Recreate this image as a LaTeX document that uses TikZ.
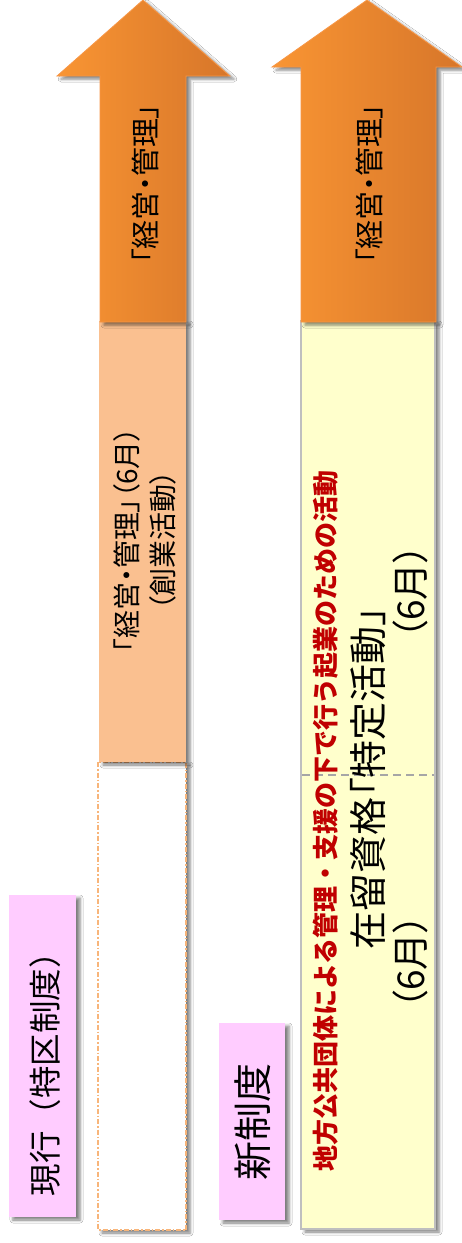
\documentclass[tikz,border=0pt]{standalone}
\usepackage{fontspec}
\newfontfamily\jp[RawFeature=+palt]{Noto Sans CJK JP}
\newfontfamily\jpn{Noto Sans CJK JP}
\usetikzlibrary{shadows.blur}
\definecolor{pinkbox}{HTML}{FFCCFF}
\definecolor{peach}{HTML}{FAC090}
\definecolor{peachline}{HTML}{F8B57A}
\definecolor{yel}{HTML}{FFFFCC}
\definecolor{graybd}{HTML}{BFBFBF}
\definecolor{dashgray}{HTML}{A6A6A6}
\definecolor{arrowL}{HTML}{F99533}
\definecolor{arrowR}{HTML}{D7762A}
\definecolor{arrowline}{HTML}{F79646}
\definecolor{redtxt}{HTML}{C00000}
\begin{document}
\begin{tikzpicture}[x=1pt,y=-1pt,
  shd/.style={blur shadow={shadow xshift=4pt,shadow yshift=-3pt,shadow blur radius=3pt,shadow opacity=50}},
  arrowshape/.style={shd, draw=arrowline, line width=0.8pt, left color=arrowL, right color=arrowR},
  vtext/.style={rotate=90, inner sep=0pt, text=black, align=center},
]
\useasboundingbox (0,0) rectangle (462,1243);
\fill[white] (0,0) rectangle (462,1243);

% left column
\draw[shd, fill=pinkbox, draw=none] (9,895) rectangle (76,1217);
\node[vtext, font=\jpn\fontsize{32.5}{33}\selectfont] (genko) at (45,1066) {現行（特区制度）};

\draw[shd, fill=white, draw=peachline, dash pattern=on 5pt off 2pt on 1.5pt off 2pt, line width=1.2pt] (98,762) rectangle (186,1230);
\draw[shd, fill=peach, draw=none] (99,321) rectangle (186,762);
\node[vtext, font=\jp\fontsize{28}{36}\selectfont] (sogyo) at (145,540) {「経営・管理」（6月）\\（創業活動）};

\path[arrowshape] (100,322) -- (100,76) -- (57,76) -- (143,0) -- (230,76) -- (186,76) -- (186,322) -- cycle;
\node[vtext, font=\jp\fontsize{29}{29}\selectfont] (keiei1) at (145,184) {「経営・管理」};

% right column
\draw[shd, fill=pinkbox, draw=none] (219,1023) rectangle (285,1220);
\node[vtext, font=\jpn\fontsize{39}{39}\selectfont] (shin) at (253,1122) {新制度};

\draw[shd, fill=yel, draw=graybd, line width=1.2pt] (301,321) rectangle (435,1229);
\coordinate (dl) at (302,775);
\coordinate (dr) at (434,775);
\draw[dashgray, dash pattern=on 8pt off 5pt, line width=2pt] (dl) -- (dr);

\node[vtext, text=redtxt, font=\jpn\bfseries\fontsize{26}{26}\selectfont] (red) at (326,821) {地方公共団体による管理・支援の下で行う起業のための活動};
\node[vtext, font=\jp\fontsize{38}{38}\selectfont] (tokutei) at (368,778) {在留資格「特定活動」};
\node[vtext, font=\jp\fontsize{37}{37}\selectfont] (m1) at (410,962) {（6月）};
\node[vtext, font=\jp\fontsize{37}{37}\selectfont] (m2) at (410,592) {（6月）};

\path[arrowshape] (301,322) -- (301,67) -- (272,67) -- (367,0) -- (462,67) -- (436,67) -- (436,322) -- cycle;
\node[vtext, font=\jp\fontsize{29}{29}\selectfont] (keiei2) at (369,184) {「経営・管理」};
\end{tikzpicture}
\end{document}
